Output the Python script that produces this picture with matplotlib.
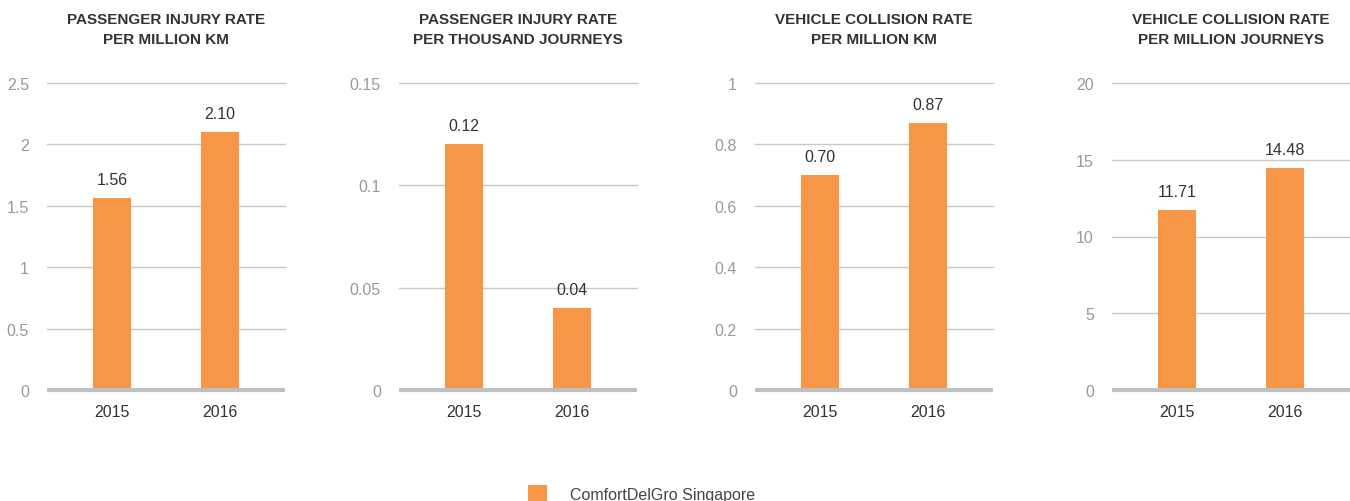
import matplotlib
matplotlib.use('Agg')
import matplotlib.pyplot as plt

plt.rcParams['font.family'] = ['Liberation Sans', 'DejaVu Sans']

years = ['2015', '2016']
titles = ['PASSENGER INJURY RATE\nPER MILLION KM',
          'PASSENGER INJURY RATE\nPER THOUSAND JOURNEYS',
          'VEHICLE COLLISION RATE\nPER MILLION KM',
          'VEHICLE COLLISION RATE\nPER MILLION JOURNEYS']
values = [[1.56, 2.10],
          [0.12, 0.04],
          [0.70, 0.87],
          [11.71, 14.48]]
labels = [['1.56', '2.10'],
          ['0.12', '0.04'],
          ['0.70', '0.87'],
          ['11.71', '14.48']]
yticks = [[0, 0.5, 1, 1.5, 2, 2.5],
          [0, 0.05, 0.1, 0.15],
          [0, 0.2, 0.4, 0.6, 0.8, 1],
          [0, 5, 10, 15, 20]]
yticklabels = [['0', '0.5', '1', '1.5', '2', '2.5'],
               ['0', '0.05', '0.1', '0.15'],
               ['0', '0.2', '0.4', '0.6', '0.8', '1'],
               ['0', '5', '10', '15', '20']]
series_name = 'ComfortDelGro Singapore'

orange = '#F79646'
W, H = 1350, 502
fig = plt.figure(figsize=(W / 100, H / 100), dpi=100)

lefts = [47, 399, 755, 1112]
for i in range(4):
    ax = fig.add_axes([lefts[i] / W, 1 - 391 / H, 238 / W, 307 / H])
    x = range(len(years))
    bars = ax.bar(x, values[i], width=0.35, color=orange, zorder=3)
    for b, lab in zip(bars, labels[i]):
        ax.annotate(lab, (b.get_x() + b.get_width() / 2, b.get_height()),
                    xytext=(0, 8), textcoords='offset points',
                    ha='center', va='bottom', fontsize=11.5, color='#333333')
    ax.set_xlim(-0.6, 1.6)
    ax.set_ylim(0, yticks[i][-1])
    ax.set_yticks(yticks[i])
    ax.set_yticklabels(yticklabels[i], fontsize=11.5, color='#999999')
    ax.set_xticks(list(x))
    ax.set_xticklabels(years, fontsize=11.5, color='#333333')
    ax.tick_params(axis='y', length=0, pad=13)
    ax.tick_params(axis='x', length=0, pad=10)
    for t in yticks[i][1:]:
        ax.axhline(t, color='#c8c8c8', lw=1, zorder=1, clip_on=False)
    ax.axhline(0, color='#c0c0c0', lw=3, zorder=4, clip_on=False, solid_capstyle='butt')
    for s in ax.spines.values():
        s.set_visible(False)
    fig.text((lefts[i] + 119) / W, 1 - 13 / H, titles[i], ha='center', va='top',
             fontsize=11, fontweight='bold', color='#333333', linespacing=1.5)
    if i == 0:
        handle = bars

fig.legend([handle], [series_name], loc='upper left', bbox_to_anchor=(528 / W, 1 - 486 / H),
           frameon=False, fontsize=11.5, handlelength=1.2, handleheight=1.2,
           handletextpad=1.4, borderpad=0, borderaxespad=0, labelcolor='#444444')

fig.savefig('out.png', dpi=100)
